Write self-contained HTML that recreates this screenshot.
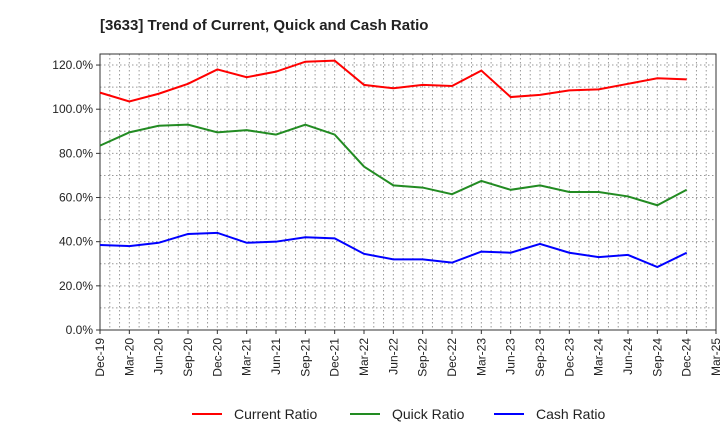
<!DOCTYPE html>
<html><head><meta charset="utf-8"><style>
body{margin:0;background:#fff;font-family:"Liberation Sans",sans-serif}
</style></head><body>
<svg id="c" width="720" height="440" xmlns="http://www.w3.org/2000/svg">
<text x="100" y="30" font-size="15" font-weight="bold" fill="#222">[3633]  Trend of Current, Quick and Cash Ratio</text>
<g id="grid"></g><g id="axes"></g><g id="series"></g>
<g>
<line x1="192" y1="414" x2="222" y2="414" stroke="#f00" stroke-width="2"/><text x="234" y="419" font-size="14" fill="#222">Current Ratio</text>
<line x1="350" y1="414" x2="380" y2="414" stroke="#228b22" stroke-width="2"/><text x="392" y="419" font-size="14" fill="#222">Quick Ratio</text>
<line x1="494" y1="414" x2="524" y2="414" stroke="#00f" stroke-width="2"/><text x="536" y="419" font-size="14" fill="#222">Cash Ratio</text>
</g>
</svg>
<script>
const xLabels=["Dec-19","Mar-20","Jun-20","Sep-20","Dec-20","Mar-21","Jun-21","Sep-21","Dec-21","Mar-22","Jun-22","Sep-22","Dec-22","Mar-23","Jun-23","Sep-23","Dec-23","Mar-24","Jun-24","Sep-24","Dec-24","Mar-25"];
const yTicks=[0,20,40,60,80,100,120];
const current=[107.5,103.5,107,111.5,118,114.5,117,121.5,122,111,109.5,111,110.5,117.5,105.5,106.5,108.5,109,111.5,114,113.5];
const quick=[83.5,89.5,92.5,93,89.5,90.5,88.5,93,88.5,74,65.5,64.5,61.5,67.5,63.5,65.5,62.5,62.5,60.5,56.5,63.5];
const cash=[38.5,38,39.5,43.5,44,39.5,40,42,41.5,34.5,32,32,30.5,35.5,35,39,35,33,34,28.5,35];
const L=100,R=716,T=54,B=330;
const x=i=>L+i*(R-L)/(xLabels.length-1);
const y=v=>B-v*(B-T)/125;
const ns="http://www.w3.org/2000/svg";
function mk(p,tag,a){const e=document.createElementNS(ns,tag);for(const k in a)e.setAttribute(k,a[k]);p.appendChild(e);return e;}
const g=document.getElementById('grid'),ax=document.getElementById('axes'),s=document.getElementById('series');
for(let m=1;m<(xLabels.length-1)*3;m++){const xx=L+m*(R-L)/((xLabels.length-1)*3);
const l=mk(g,'line',{x1:xx,x2:xx,y1:T,y2:B,stroke:'#999','stroke-dasharray':'1.5,2.5','stroke-width':1});

}
for(let v=10;v<=120;v+=10){const l=mk(g,'line',{x1:L,x2:R,y1:y(v),y2:y(v),stroke:'#999','stroke-dasharray':'1.5,2.5','stroke-width':1});

}
const fr=mk(ax,'rect',{x:L,y:T,width:R-L,height:B-T,fill:'none',stroke:'#333','stroke-width':1});


yTicks.forEach(v=>{mk(ax,'line',{x1:L-4,x2:L,y1:y(v),y2:y(v),stroke:'#333'});
const t=mk(ax,'text',{x:L-7,y:y(v)+4,'text-anchor':'end','font-size':12,fill:'#222'});t.textContent=v.toFixed(1)+'%';

});
xLabels.forEach((lb,i)=>{mk(ax,'line',{x1:x(i),x2:x(i),y1:B,y2:B+4,stroke:'#333'});
const t=mk(ax,'text',{x:x(i)+4,y:B+8,'text-anchor':'end','font-size':12,fill:'#222',transform:`rotate(-90 ${x(i)+4} ${B+8})`});t.textContent=lb;

});
[[current,'#f00','current-ratio-line'],[quick,'#228b22','quick-ratio-line'],[cash,'#00f','cash-ratio-line']].forEach(([d,c,n])=>{
const p=mk(s,'polyline',{points:d.map((v,i)=>x(i)+','+y(v)).join(' '),fill:'none',stroke:c,'stroke-width':2});

});
</script>
</body></html>
